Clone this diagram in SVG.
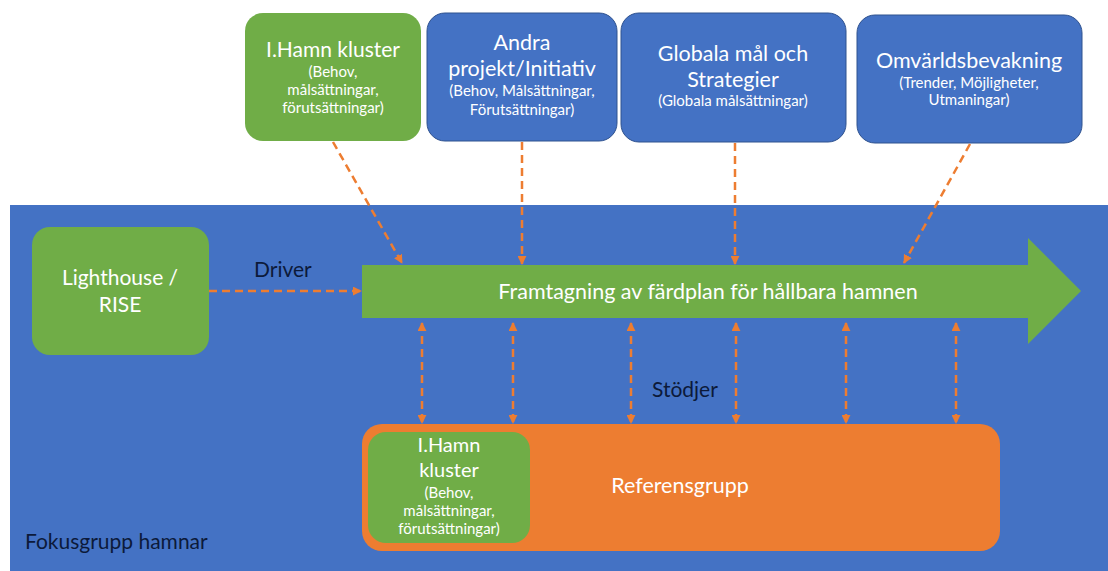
<svg xmlns="http://www.w3.org/2000/svg" width="1108" height="571" viewBox="0 0 1108 571">
  <defs>
    <style>
      .blue { fill: #4472c4; }
      .boxb { fill: #4472c4; stroke: #2f528f; stroke-width: 1; }
      .green { fill: #70ad47; }
      .orange { fill: #ed7d31; }
      .t { font-family: Lato, "Open Sans", "DejaVu Sans", sans-serif; fill: #ffffff; text-anchor: middle; }
      .title { font-size: 21.5px; }
      .sub { font-size: 15px; }
      .dark { font-family: Lato, "Liberation Sans", sans-serif; fill: #0c1a3a; font-size: 21px; }
      .conn { fill: none; stroke: #ed7d31; stroke-width: 2.5; stroke-dasharray: 8 5; }
    </style>
    <marker id="ah" viewBox="0 0 10 10" refX="9" refY="5" markerWidth="9" markerHeight="9" markerUnits="userSpaceOnUse" orient="auto-start-reverse">
      <path d="M0,0 L10,5 L0,10 z" fill="#ed7d31"/>
    </marker>
  </defs>

  <!-- background focus area -->
  <rect x="10" y="205" width="1098" height="366" class="blue"/>
  <text class="dark" x="25" y="549" font-size="19.5">Fokusgrupp hamnar</text>

  <!-- top source boxes -->
  <g id="ihamn-top">
    <rect x="245" y="13" width="176" height="128" rx="18" class="green"/>
    <text class="t" font-size="21" x="333" y="57">I.Hamn kluster</text>
    <text class="t sub" x="333" y="77">(Behov,</text>
    <text class="t sub" x="333" y="95">målsättningar,</text>
    <text class="t sub" x="333" y="113">förutsättningar)</text>
  </g>
  <g id="andra">
    <rect x="427" y="13" width="190" height="128" rx="18" class="boxb"/>
    <text class="t title" x="522" y="50">Andra</text>
    <text class="t title" x="522" y="76">projekt/Initiativ</text>
    <text class="t sub" x="522" y="96">(Behov, Målsättningar,</text>
    <text class="t sub" x="522" y="115">Förutsättningar)</text>
  </g>
  <g id="globala">
    <rect x="621" y="13" width="225" height="129" rx="18" class="boxb"/>
    <text class="t title" x="733" y="61">Globala mål och</text>
    <text class="t title" x="733" y="87">Strategier</text>
    <text class="t sub" x="733" y="106">(Globala målsättningar)</text>
  </g>
  <g id="omvarld">
    <rect x="857" y="15" width="225" height="128" rx="18" class="boxb"/>
    <text class="t title" x="969" y="68">Omvärldsbevakning</text>
    <text class="t sub" x="969" y="88">(Trender, Möjligheter,</text>
    <text class="t sub" x="969" y="105">Utmaningar)</text>
  </g>

  <!-- driver -->
  <g id="lighthouse">
    <rect x="32" y="227" width="177" height="128" rx="18" class="green"/>
    <text class="t" font-size="21" x="120" y="285">Lighthouse /</text>
    <text class="t" font-size="21" x="120" y="312">RISE</text>
  </g>

  <!-- main process arrow -->
  <g id="framtagning">
    <path d="M362,265 L1028,265 L1028,238 L1081,291 L1028,344 L1028,318 L362,318 z" class="green"/>
    <text class="t" font-size="21.5" x="708" y="299">Framtagning av färdplan för hållbara hamnen</text>
  </g>

  <!-- reference group -->
  <g id="referensgrupp">
    <rect x="362" y="424" width="638" height="127" rx="20" class="orange"/>
    <text class="t" font-size="21.5" x="680" y="493">Referensgrupp</text>
  </g>
  <g id="ihamn-ref">
    <rect x="368" y="432" width="162" height="111" rx="18" class="green"/>
    <text class="t" font-size="20" x="449" y="452">I.Hamn</text>
    <text class="t" font-size="20" x="449" y="477">kluster</text>
    <text class="t sub" x="449" y="498">(Behov,</text>
    <text class="t sub" x="449" y="516">målsättningar,</text>
    <text class="t sub" x="449" y="534">förutsättningar)</text>
  </g>

  <!-- connectors -->
  <g id="connectors">
    <line class="conn" x1="333" y1="142" x2="402" y2="263" marker-end="url(#ah)"/>
    <line class="conn" x1="522" y1="142" x2="522" y2="264" marker-end="url(#ah)"/>
    <line class="conn" x1="735" y1="143" x2="735" y2="264" marker-end="url(#ah)"/>
    <line class="conn" x1="970" y1="144" x2="904" y2="263" marker-end="url(#ah)"/>
    <line class="conn" x1="209" y1="291" x2="361" y2="291" marker-end="url(#ah)"/>
    <line class="conn" x1="422" y1="323" x2="422" y2="423" marker-start="url(#ah)" marker-end="url(#ah)"/>
    <line class="conn" x1="513" y1="323" x2="513" y2="423" marker-start="url(#ah)" marker-end="url(#ah)"/>
    <line class="conn" x1="631" y1="323" x2="631" y2="423" marker-start="url(#ah)" marker-end="url(#ah)"/>
    <line class="conn" x1="736" y1="323" x2="736" y2="423" marker-start="url(#ah)" marker-end="url(#ah)"/>
    <line class="conn" x1="846" y1="323" x2="846" y2="423" marker-start="url(#ah)" marker-end="url(#ah)"/>
    <line class="conn" x1="956" y1="323" x2="956" y2="423" marker-start="url(#ah)" marker-end="url(#ah)"/>
    <text class="dark" x="254" y="277">Driver</text>
    <text class="dark" x="652" y="397">Stödjer</text>
  </g>
</svg>
